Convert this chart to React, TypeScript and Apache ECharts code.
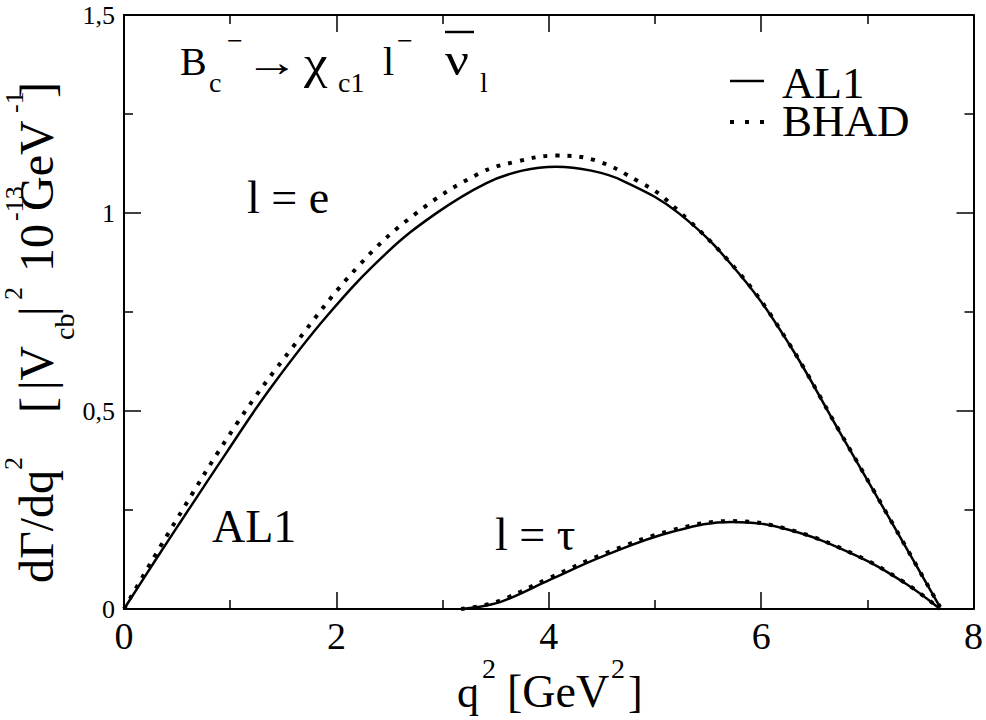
import React, { useEffect, useRef } from "react";
import * as echarts from "echarts";

// l = e, AL1 (solid)
const Q_E_AL1 = [0, 0.3, 0.589, 0.965, 1.372, 1.905, 2.469, 2.939, 3.409, 3.75, 4.07, 4.4, 4.693, 5.226, 5.789, 6.259, 6.729, 7.199, 7.685];
const V_E_AL1 = [0, 0.125, 0.243, 0.395, 0.555, 0.738, 0.898, 0.999, 1.075, 1.107, 1.117, 1.107, 1.082, 0.999, 0.848, 0.671, 0.452, 0.233, 0.005];
// l = e, BHAD (dotted)
const Q_E_BHAD = [0, 0.464, 1.075, 1.591, 2.218, 2.75, 3.346, 3.7, 4.07, 4.45, 4.85, 5.1, 5.789, 6.259, 6.729, 7.199, 7.685];
const V_E_BHAD = [0, 0.212, 0.473, 0.662, 0.869, 0.999, 1.1, 1.13, 1.145, 1.132, 1.079, 1.035, 0.85, 0.672, 0.453, 0.234, 0.005];
// l = tau, AL1 (solid)
const Q_T_AL1 = [3.174, 3.4, 3.597, 4.004, 4.537, 5.163, 5.727, 6.259, 6.886, 7.356, 7.685];
const V_T_AL1 = [0, 0.008, 0.023, 0.073, 0.136, 0.195, 0.22, 0.2, 0.136, 0.065, 0];
// l = tau, BHAD (dotted)
const Q_T_BHAD = [3.174, 3.4, 3.597, 4.004, 4.537, 5.163, 5.727, 6.259, 6.886, 7.356, 7.685];
const V_T_BHAD = [0, 0.01, 0.027, 0.078, 0.141, 0.199, 0.222, 0.201, 0.137, 0.066, 0];

const LEGEND_NAMES = ["AL1", "BHAD"];

const X_MIN = 0, X_MAX = 8, X_STEP = 2;
const Y_MIN = 0, Y_MAX = 1.5, Y_STEP = 0.5;

const FONT = "Liberation Serif";

const zip = (a: number[], b: number[]) => a.map((v, i) => [v, b[i]]);

// horizontal text: left x, baseline y
function hText(text: string, x: number, base: number, size: number, sx = 1, lh?: number) {
  return {
    type: "text",
    x,
    y: base - 0.34 * size,
    scaleX: sx,
    silent: true,
    style: {
      text, fill: "#000", fontSize: size, fontFamily: FONT, lineHeight: lh ?? size,
      align: "left", verticalAlign: "middle", textAlign: "left", textVerticalAlign: "middle",
    },
  };
}
function hTextC(text: string, x: number, cy: number, size: number, sx = 1, lh?: number) {
  return hText(text, x, cy + 0.34 * size, size, sx, lh);
}
// rotated text: start y (bottom), center x
function vText(text: string, cx: number, startY: number, size: number) {
  return {
    type: "text",
    x: cx,
    y: startY,
    rotation: Math.PI / 2,
    silent: true,
    style: {
      text, fill: "#000", fontSize: size, fontFamily: FONT,
      align: "left", verticalAlign: "middle", textAlign: "left", textVerticalAlign: "middle",
    },
  };
}
function seg(x1: number, y1: number, x2: number, y2: number, w: number, dash?: number[]) {
  return {
    type: "line", silent: true,
    shape: { x1, y1, x2, y2 },
    style: { stroke: "#000", lineWidth: w, lineDash: dash, lineCap: "butt" },
  };
}

export default function App() {
  const ref = useRef<HTMLDivElement>(null);
  useEffect(() => {
    document.body.style.margin = "0";
    if (!ref.current) return;
    const chart = echarts.init(ref.current, undefined, { renderer: "svg" });

    const axisCommon = {
      type: "value" as const,
      axisLine: { show: true, onZero: false, lineStyle: { color: "#000", width: 2 } },
      axisTick: { show: true, inside: true, length: 17, lineStyle: { color: "#000", width: 1.5 } },
      minorTick: { show: true, splitNumber: 2, length: 9, lineStyle: { color: "#000", width: 1.5 } },
      splitLine: { show: false },
      minorSplitLine: { show: false },
    };

    const solid = { color: "#000", width: 2.5 };
    const dotted = { color: "#000", width: 4, type: [4, 8] as number[], cap: "butt" as const };

    const mainY = 53 - 0.34 * 48;

    chart.setOption({
      animation: false,
      backgroundColor: "#fff",
      textStyle: { fontFamily: FONT },
      grid: { left: 124, right: 11, top: 15, bottom: 111, containLabel: false },
      xAxis: [
        {
          ...axisCommon, min: X_MIN, max: X_MAX, interval: X_STEP, position: "bottom",
          axisLabel: { color: "#000", fontFamily: FONT, fontSize: 38, margin: 8 },
        },
        {
          ...axisCommon, min: X_MIN, max: X_MAX, interval: X_STEP, position: "top",
          axisLabel: { show: false },
        },
      ],
      yAxis: [
        {
          ...axisCommon, min: Y_MIN, max: Y_MAX, interval: Y_STEP, position: "left",
          axisLabel: {
            color: "#000", fontFamily: FONT, fontSize: 26, margin: 9,
            formatter: (v: number) => String(v).replace(".", ","),
          },
        },
        {
          ...axisCommon, min: Y_MIN, max: Y_MAX, interval: Y_STEP, position: "right",
          axisLabel: { show: false },
        },
      ],
      series: [
        { name: "AL1 e", type: "line", data: zip(Q_E_AL1, V_E_AL1), showSymbol: false, smooth: 0.4, lineStyle: solid, xAxisIndex: 0, yAxisIndex: 0 },
        { name: "BHAD e", type: "line", data: zip(Q_E_BHAD, V_E_BHAD), showSymbol: false, smooth: 0.4, lineStyle: dotted, xAxisIndex: 0, yAxisIndex: 0 },
        { name: "AL1 tau", type: "line", data: zip(Q_T_AL1, V_T_AL1), showSymbol: false, smooth: 0.4, lineStyle: solid, xAxisIndex: 0, yAxisIndex: 0 },
        { name: "BHAD tau", type: "line", data: zip(Q_T_BHAD, V_T_BHAD), showSymbol: false, smooth: 0.4, lineStyle: dotted, xAxisIndex: 0, yAxisIndex: 0 },
      ],
      graphic: [
        // title formula
        hText("B", 180, 75, 40),
        hText("c", 209, 92, 28),
        hTextC("−", 227, 40, 28),
        hTextC("→", 245, 63, 40, 1.35),
        hText("χ", 304, 78, 46, 1.15),
        hText("c1", 338, 92, 28),
        hText("l", 383, 75, 40),
        hTextC("−", 397, 40, 28),
        hText("ν", 445, 75, 46, 1.15),
        seg(445, 32, 474, 32, 2.5),
        hText("l", 480, 92, 28),
        // annotations
        hText("l = e", 247, 213, 46),
        hText("AL1", 212, 542, 46),
        hText("l = τ", 495, 550, 46),
        // legend
        seg(730, 81, 764, 81, 2.5),
        seg(730, 122, 768, 122, 4, [4, 11]),
        hTextC(LEGEND_NAMES.join("\n"), 782, 102, 45, 1, 38),
        // x axis title
        hText("q", 457, 707, 44),
        hTextC("2", 482, 668, 28),
        hText("[GeV", 507, 707, 46),
        hTextC("2", 611, 668, 28),
        hText("]", 628, 707, 44),
        // y axis title (rotated)
        vText("dΓ/dq", mainY, 583, 48),
        vText("2", 13, 470, 26),
        vText("[", mainY, 413, 48),
        vText("|V", mainY, 390, 48),
        vText("cb", 64, 340, 28),
        vText("|", mainY, 316, 48),
        vText("2", 13, 300, 26),
        vText("10", mainY, 272, 48),
        vText("-13", 14, 221, 26),
        vText("GeV", mainY, 211, 48),
        vText("-1", 14, 113, 26),
        vText("]", mainY, 98, 48),
      ],
    });
    return () => chart.dispose();
  }, []);
  return <div ref={ref} style={{ width: 986, height: 720 }} />;
}
